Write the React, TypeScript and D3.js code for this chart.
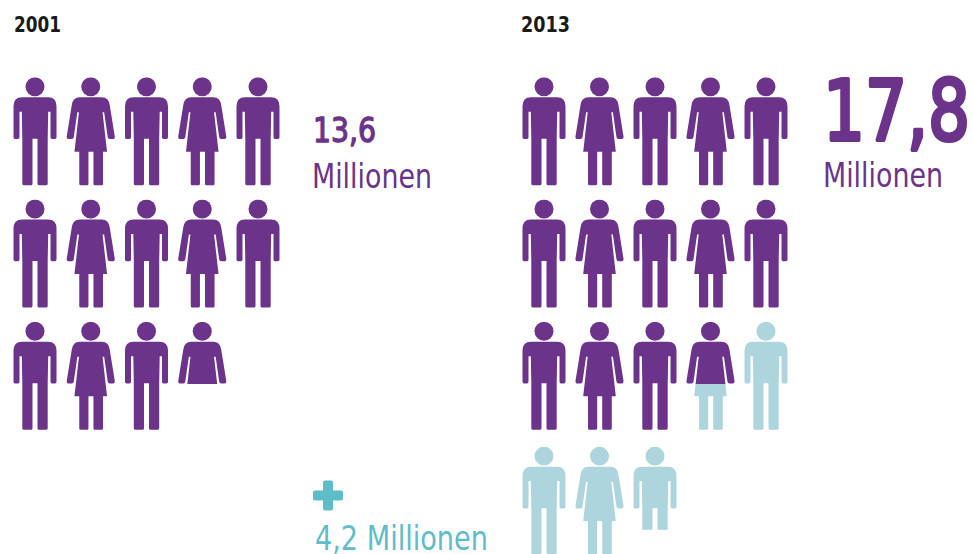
import React, { useEffect, useRef } from 'react';
import * as d3 from 'd3';

// One icon stands for one million people
const years = ['2001', '2013'];
const baseValues = [13.6, 13.6];
const addedValues = [0, 4.2];
const iconsPerRow = 5;
const purple = '#6b3389';
const lightTeal = '#aed5dd';
const teal = '#5fbcc9';

const MAN =
  'M-13,20 L13,20 Q21.5,20 21.5,29 L21.5,60 Q21.5,61.7 20,61.7 L17,61.7 Q15.5,61.7 15.5,60 L15.5,34.4 L13.2,34.4 L12.7,61.5 L12.7,106.5 Q12.7,108 11,108 L4,108 Q2.5,108 2.5,106.5 L2.5,61.5 L-2.5,61.5 L-2.5,106.5 Q-2.5,108 -4,108 L-11,108 Q-12.7,108 -12.7,106.5 L-12.7,61.5 L-13.2,34.4 L-15.5,34.4 L-15.5,60 Q-15.5,61.7 -17,61.7 L-20,61.7 Q-21.5,61.7 -21.5,60 L-21.5,29 Q-21.5,20 -13,20 Z';
const WOMAN =
  'M-11,20 L11,20 Q18,20 19,28 L24,59 Q24.3,61.7 22.5,61.7 L19,61.7 Q17.2,61.7 17,60 L13.4,35 L11.8,35 L16.3,74.4 L12.3,74.4 L12.3,106.5 Q12.3,108 11,108 L4,108 Q2.7,108 2.7,106.5 L2.7,74.4 L-2.3,74.4 L-2.3,106.5 Q-2.3,108 -4,108 L-10,108 Q-11.5,108 -11.5,106.5 L-11.5,74.4 L-16.3,74.4 L-11.8,35 L-13.4,35 L-17,60 Q-17.2,61.7 -19,61.7 L-22.5,61.7 Q-24.3,61.7 -24,59 L-19,28 Q-18,20 -11,20 Z';

const App = () => {
  const svgRef = useRef<SVGSVGElement>(null);

  useEffect(() => {
    if (!svgRef.current) return;
    const svg = d3.select(svgRef.current);
    svg.selectAll('*').remove();

    const columnRanges: [number, number][] = [[35, 258], [544, 766]];
    const rowScale = d3.scaleLinear().domain([0, 2, 3]).range([77.3, 321.8, 446.7]);
    // how far down the icon a fractional value reaches
    const fillScale = d3.scaleLinear().domain([0, 0.8, 1]).range([0, 83, 112]);
    const defs = svg.append('defs');
    let clipId = 0;

    const drawIcon = (g: any, column: number, fromFill: number, toFill: number, color: string) => {
      if (toFill <= fromFill) return;
      const id = `icon-clip-${clipId++}`;
      defs.append('clipPath').attr('id', id).append('rect')
        .attr('x', -30)
        .attr('y', fillScale(fromFill))
        .attr('width', 60)
        .attr('height', fillScale(toFill) - fillScale(fromFill));
      const icon = g.append('g').attr('clip-path', `url(#${id})`).attr('fill', color);
      icon.append('circle').attr('cx', 0).attr('cy', 9.4).attr('r', 9.5);
      icon.append('path').attr('d', column % 2 === 0 ? MAN : WOMAN);
    };

    years.forEach((year, yi) => {
      const base = baseValues[yi];
      const total = base + addedValues[yi];
      const columnScale = d3.scaleLinear().domain([0, iconsPerRow - 1]).range(columnRanges[yi]);
      d3.range(Math.ceil(total - 1e-9)).forEach(i => {
        const column = i % iconsPerRow;
        const row = Math.floor(i / iconsPerRow);
        const g = svg.append('g')
          .attr('transform', `translate(${columnScale(column)},${rowScale(row)})`);
        const purplePart = Math.max(0, Math.min(1, base - i));
        const wholePart = Math.max(0, Math.min(1, total - i));
        drawIcon(g, column, 0, purplePart, purple);
        drawIcon(g, column, purplePart, wholePart, lightTeal);
      });
    });

    // squeeze each label to the reference width; a stroke thickens the regular weight
    const label = (str: string, x: number, y: number, size: number, len: number, color: string, family: string, weight = 400, thicken = 0) => {
      const t = svg.append('text')
        .attr('font-family', family)
        .attr('font-size', size)
        .attr('font-weight', weight)
        .attr('fill', color)
        .attr('stroke', thicken ? color : 'none')
        .attr('stroke-width', thicken)
        .attr('stroke-linejoin', 'round')
        .text(str);
      const natural = (t.node() as SVGTextElement).getComputedTextLength();
      t.attr('transform', `translate(${x},${y}) scale(${len / natural},1)`);
    };

    const numberFont = '"DejaVu Sans", sans-serif';
    const wordFont = '"DejaVu Sans Condensed", "DejaVu Sans", sans-serif';

    label(years[0], 14, 32, 21, 47, '#1a1a1a', numberFont, 700);
    label(years[1], 521, 32, 21, 49, '#1a1a1a', numberFont, 700);
    label('13,6', 313, 142, 34, 63, purple, numberFont, 400, 1.4);
    label('Millionen', 312, 188, 33, 120, purple, wordFont);
    label('17,8', 823, 140, 84, 147, purple, numberFont, 400, 4);
    label('Millionen', 823, 187, 33, 120, purple, wordFont);
    label('4,2 Millionen', 315, 550, 34, 173, teal, wordFont);

    // plus sign above the difference
    const plus = svg.append('g').attr('fill', teal).attr('transform', 'translate(328,495.5)');
    plus.append('rect').attr('x', -15).attr('y', -5).attr('width', 30).attr('height', 10).attr('rx', 2);
    plus.append('rect').attr('x', -5).attr('y', -15).attr('width', 10).attr('height', 30).attr('rx', 2);
  }, []);

  return <svg ref={svgRef} width={973} height={554} style={{ position: 'absolute', left: 0, top: 0, background: '#fff' }} />;
};

export default App;
